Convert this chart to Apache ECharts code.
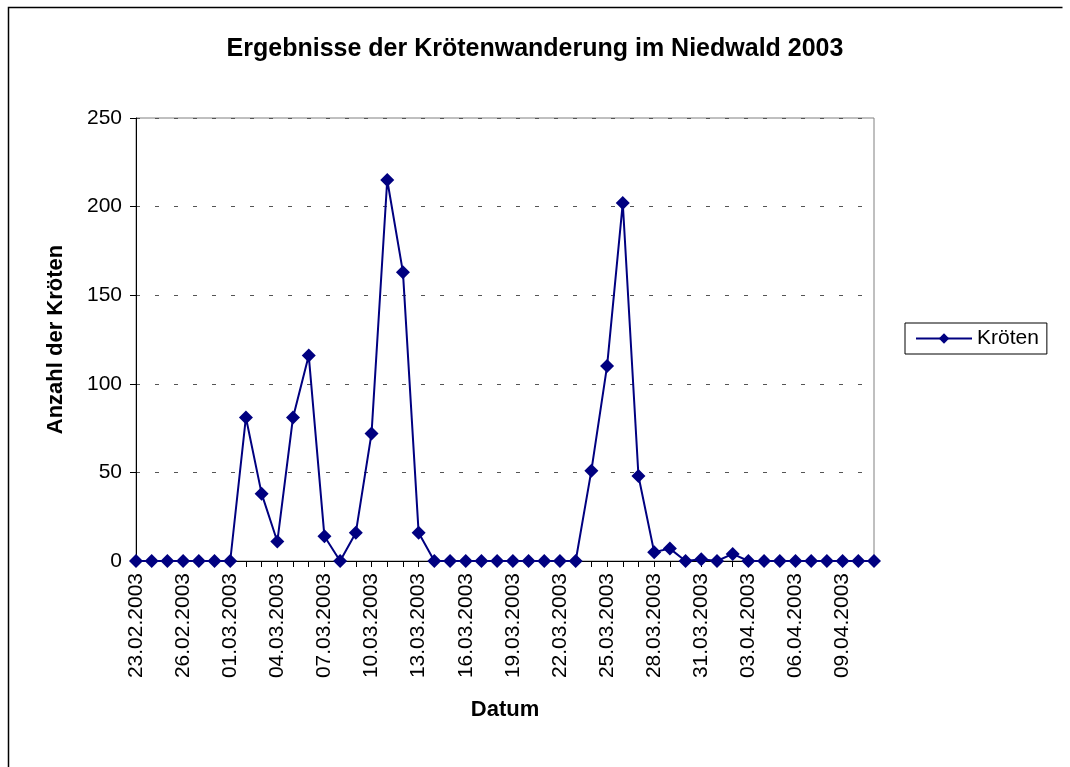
<!DOCTYPE html>
<html>
<head>
<meta charset="utf-8">
<script src="https://cdn.jsdelivr.net/npm/echarts@6/dist/echarts.min.js"></script>
<style>
html,body{margin:0;padding:0;background:#fff;}
#chart{width:1070px;height:767px;}
</style>
</head>
<body>
<div id="chart"></div>
<script>
// Data
const dates = [
  '23.02.2003','24.02.2003','25.02.2003','26.02.2003','27.02.2003','28.02.2003',
  '01.03.2003','02.03.2003','03.03.2003','04.03.2003','05.03.2003','06.03.2003',
  '07.03.2003','08.03.2003','09.03.2003','10.03.2003','11.03.2003','12.03.2003',
  '13.03.2003','14.03.2003','15.03.2003','16.03.2003','17.03.2003','18.03.2003',
  '19.03.2003','20.03.2003','21.03.2003','22.03.2003','23.03.2003','24.03.2003',
  '25.03.2003','26.03.2003','27.03.2003','28.03.2003','29.03.2003','30.03.2003',
  '31.03.2003','01.04.2003','02.04.2003','03.04.2003','04.04.2003','05.04.2003',
  '06.04.2003','07.04.2003','08.04.2003','09.04.2003','10.04.2003','11.04.2003'
];
const kroeten = [
  0,0,0,0,0,0,
  0,81,38,11,81,116,
  14,0,16,72,215,163,
  16,0,0,0,0,0,
  0,0,0,0,0,51,
  110,202,48,5,7,0,
  1,0,4,0,0,0,
  0,0,0,0,0,0
];
const yTicks = [0, 50, 100, 150, 200, 250];
const seriesName = 'Kröten';
const titleText = 'Ergebnisse der Krötenwanderung im Niedwald 2003';
const xName = 'Datum';
const yName = 'Anzahl der Kröten';

const FONT = '"Liberation Sans", Arial, sans-serif';
const chart = echarts.init(document.getElementById('chart'), null, {renderer: 'canvas'});
chart.setOption({
  backgroundColor: '#fff',
  animation: false,
  textStyle: {fontFamily: FONT},
  title: {
    text: titleText,
    left: 'center',
    top: 32,
    textStyle: {fontFamily: FONT, fontSize: 25, fontWeight: 'bold', color: '#000'}
  },
  graphic: [{
    type: 'polyline',
    shape: {points: [[8.5, 800], [8.5, 7.5], [1062.5, 7.5]]},
    style: {fill: 'none', stroke: '#000', lineWidth: 1.5},
    silent: true
  }],
  legend: {
    data: [seriesName],
    left: 905,
    top: 323,
    orient: 'vertical',
    padding: [5, 8, 5, 10],
    itemWidth: 56,
    itemHeight: 13,
    borderColor: '#000',
    borderWidth: 1,
    textStyle: {fontFamily: FONT, fontSize: 21, color: '#000'}
  },
  grid: {
    left: 136, top: 118, width: 738, height: 443,
    show: true, borderColor: '#808080', borderWidth: 1, backgroundColor: '#fff'
  },
  xAxis: {
    type: 'category',
    data: dates,
    boundaryGap: false,
    name: xName,
    nameLocation: 'middle',
    nameGap: 138,
    nameTextStyle: {fontFamily: FONT, fontSize: 22, fontWeight: 'bold', color: '#000'},
    axisLine: {lineStyle: {color: '#000', width: 1}},
    axisTick: {show: true, interval: 0, length: 6, lineStyle: {color: '#000'}},
    axisLabel: {interval: 2, rotate: 90, margin: 12, fontFamily: FONT, fontSize: 21, color: '#000'},
    splitLine: {show: false}
  },
  yAxis: {
    type: 'value',
    min: yTicks[0],
    max: yTicks[yTicks.length - 1],
    interval: yTicks[1] - yTicks[0],
    name: yName,
    nameLocation: 'middle',
    nameRotate: 90,
    nameGap: 69,
    nameTextStyle: {fontFamily: FONT, fontSize: 22, fontWeight: 'bold', color: '#000'},
    axisLine: {show: true, lineStyle: {color: '#000', width: 1}},
    axisTick: {show: true, length: 6, lineStyle: {color: '#000'}},
    axisLabel: {margin: 14, fontFamily: FONT, fontSize: 21, color: '#000'},
    splitLine: {show: true, lineStyle: {color: '#555', type: [4, 15], width: 1}}
  },
  series: [{
    name: seriesName,
    type: 'line',
    data: kroeten,
    symbol: 'diamond',
    symbolSize: 14,
    showSymbol: true,
    showAllSymbol: true,
    color: '#000080',
    lineStyle: {color: '#000080', width: 2},
    itemStyle: {color: '#000080'}
  }]
});
</script>
</body>
</html>
